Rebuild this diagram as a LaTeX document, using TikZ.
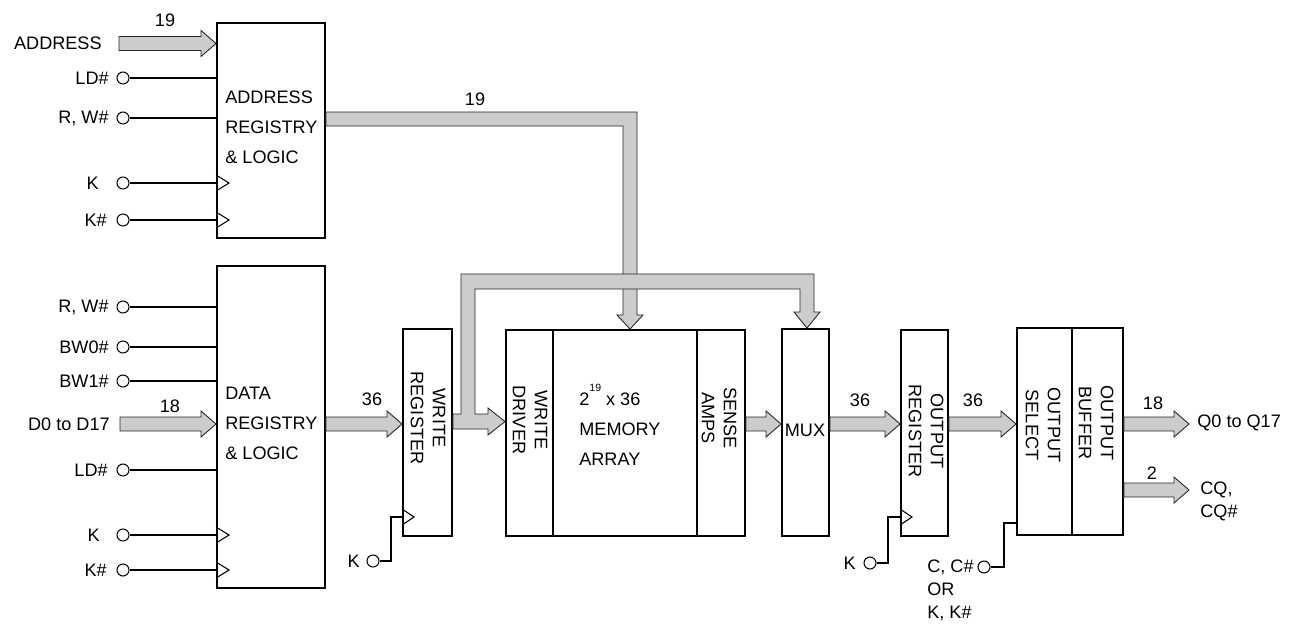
\documentclass[tikz,border=0pt]{standalone}
\usepackage{fontspec}
\setmainfont{Liberation Sans}
\usetikzlibrary{calc,fit}

\definecolor{busgray}{RGB}{204,204,204}

\tikzset{
  blk/.style={draw, line width=1.1pt, inner sep=0pt},
  pinc/.style={circle, draw, line width=0.6pt, inner sep=0pt, minimum size=0.24cm},
  wire/.style={line width=0.6pt},
  bus/.style={fill=busgray, draw=black!85, line width=0.5pt},
  txt/.style={font=\fontsize{10.3}{17}\selectfont, inner sep=0pt},
  vtxt/.style={txt, font=\fontsize{10.3}{12.5}\selectfont, rotate=-90, align=center},
  stxt/.style={txt, font=\fontsize{10.3}{13}\selectfont, align=left, anchor=west}
}

% fat bus arrow, tip on the x of the second point
\newcommand\hbus[2]{%
  \path (#1) coordinate (bS) (#2) coordinate (bT);
  \filldraw[bus] ($(bS)+(0,-7)$) -- ($(bS -| bT)+(-15,-7)$)
    -- ($(bS -| bT)+(-15,-13)$) -- (bS -| bT) -- ($(bS -| bT)+(-15,13)$)
    -- ($(bS -| bT)+(-15,7)$) -- ($(bS)+(0,7)$) -- cycle;}

\begin{document}
\begin{tikzpicture}[x=0.02cm, y=-0.02cm]

\useasboundingbox (0,0) rectangle (1293,626);
\coordinate (row) at (0,424);
\coordinate (qout) at (1189,424);
\coordinate (cqout) at (1189,490);

% blocks
\node[blk, fit={(217,23) (325,238)}] (addr) {};
\node[blk, fit={(217,266) (325,588)}] (datareg) {};
\node[blk, fit={(403,329) (452,536)}] (wreg) {};
\node[blk, fit={(506,330) (553,536)}] (wdrv) {};
\node[blk, fit={(553,330) (697,536)}] (marr) {};
\node[blk, fit={(697,330) (745,536)}] (samp) {};
\node[blk, fit={(782,329) (829,536)}] (mux) {};
\node[blk, fit={(901,330) (948,536)}] (oreg) {};
\node[blk, fit={(1017,328) (1072,535)}] (osel) {};
\node[blk, fit={(1072,328) (1123,535)}] (obuf) {};

\node[txt, anchor=west, align=left] (addrt) at (225,127) {ADDRESS\\REGISTRY\\\& LOGIC};
\node[txt, anchor=west, align=left] (datat) at (225,423) {DATA\\REGISTRY\\\& LOGIC};
\node[vtxt] (wregt) at (428,418) {WRITE\\REGISTER};
\node[vtxt] (wdrvt) at (530,420) {WRITE\\DRIVER};
\node[txt, anchor=west, align=left] (marrt) at (579,425)
  {2\raisebox{8pt}{\fontsize{6}{6}\selectfont 19} x 36\\MEMORY\\ARRAY};
\node[vtxt] (sampt) at (719,418) {SENSE\\AMPS};
\node[txt] (muxt) at (805,430) {MUX};
\node[vtxt] (oregt) at (926,431) {OUTPUT\\REGISTER};
\node[vtxt] (oselt) at (1043,425) {OUTPUT\\SELECT};
\node[vtxt] (obuft) at (1096,423) {OUTPUT\\BUFFER};

% address inputs
\node[txt, anchor=east] (addrin) at (102,43.5) {ADDRESS};
\hbus{119,43.5}{addr.west}
\node[txt] (n19a) at (165,20) {19};

\node[pinc] (aLD) at (123,78) {};
\node[txt, anchor=east] (aLDt) at (109,78) {LD\#};
\draw[wire] (aLD) -- (aLD -| addr.west);

\node[pinc] (aRW) at (123,118) {};
\node[txt, anchor=east] (aRWt) at (109,118) {R, W\#};
\draw[wire] (aRW) -- (aRW -| addr.west);

\node[pinc] (aK) at (123,183) {};
\node[txt, anchor=east] (aKt) at (99,183) {K};
\draw[wire] (aK) -- (aK -| addr.west);
\draw[wire] (aK -| addr.west) ++(0,-8) -- ++(13,8) -- ++(-13,8);

\node[pinc] (aKn) at (123,220) {};
\node[txt, anchor=east] (aKnt) at (107,220) {K\#};
\draw[wire] (aKn) -- (aKn -| addr.west);
\draw[wire] (aKn -| addr.west) ++(0,-8) -- ++(13,8) -- ++(-13,8);

% data inputs
\node[pinc] (dRW) at (123,307) {};
\node[txt, anchor=east] (dRWt) at (109,307) {R, W\#};
\draw[wire] (dRW) -- (dRW -| datareg.west);

\node[pinc] (dBW0) at (123,347) {};
\node[txt, anchor=east] (dBW0t) at (109,347) {BW0\#};
\draw[wire] (dBW0) -- (dBW0 -| datareg.west);

\node[pinc] (dBW1) at (123,381) {};
\node[txt, anchor=east] (dBW1t) at (109,381) {BW1\#};
\draw[wire] (dBW1) -- (dBW1 -| datareg.west);

\node[txt, anchor=east] (dinp) at (110,424) {D0 to D17};
\hbus{120,424}{datareg.west}
\node[txt] (n18a) at (170,406) {18};

\node[pinc] (dLD) at (123,470) {};
\node[txt, anchor=east] (dLDt) at (108,470) {LD\#};
\draw[wire] (dLD) -- (dLD -| datareg.west);

\node[pinc] (dK) at (123,535) {};
\node[txt, anchor=east] (dKt) at (100,535) {K};
\draw[wire] (dK) -- (dK -| datareg.west);
\draw[wire] (dK -| datareg.west) ++(0,-8) -- ++(13,8) -- ++(-13,8);

\node[pinc] (dKn) at (123,570) {};
\node[txt, anchor=east] (dKnt) at (107,570) {K\#};
\draw[wire] (dKn) -- (dKn -| datareg.west);
\draw[wire] (dKn -| datareg.west) ++(0,-8) -- ++(13,8) -- ++(-13,8);

% address bus to the array
\filldraw[bus] (addr.east |- 0,112) -- (637,112) -- (637,315) -- (643,315)
  -- (marr.north -| 630,0) -- (617,315) -- (623,315) -- (623,126)
  -- (addr.east |- 0,126) -- cycle;
\node[txt] (n19b) at (475,99) {19};

% data path
\hbus{datareg.east |- row}{wreg.west}
\node[txt] (n36a) at (372,399) {36};

\filldraw[bus] (wreg.east |- 0,414) -- (461,414) -- (461,274) -- (814,274) -- (814,312)
  -- (820,312) -- (mux.north -| 807,0) -- (794,312) -- (800,312) -- (800,289)
  -- (475,289) -- (475,414) -- (488,414) -- (488,408) -- (wdrv.west |- 0,421.5)
  -- (488,435) -- (488,429) -- (wreg.east |- 0,429) -- cycle;

\hbus{samp.east |- row}{mux.west}
\hbus{mux.east |- row}{oreg.west}
\node[txt] (n36b) at (860,400) {36};
\hbus{oreg.east |- row}{osel.west}
\node[txt] (n36c) at (973,400) {36};

% outputs
\hbus{obuf.east |- row}{qout}
\node[txt] (n18b) at (1153,403) {18};
\node[txt, anchor=west] (qt) at (1197,423) {Q0 to Q17};
\hbus{obuf.east |- cqout}{cqout}
\node[txt] (n2) at (1152,473) {2};
\node[stxt] (cqt) at (1200,501) {CQ,\\CQ\#};

% clocks below
\node[pinc] (wK) at (373,561) {};
\node[txt, anchor=east] (wKt) at (360,561) {K};
\draw[wire] (wK) -| (391,517) -- (wreg.west |- 0,517);
\draw[wire] (wreg.west |- 0,517) ++(0,-8) -- ++(12,8) -- ++(-12,8);

\node[pinc] (oK) at (870,563) {};
\node[txt, anchor=east] (oKt) at (856,563) {K};
\draw[wire] (oK) -| (888,517) -- (oreg.west |- 0,517);
\draw[wire] (oreg.west |- 0,517) ++(0,-8) -- ++(12,8) -- ++(-12,8);

\node[pinc] (cK) at (984,567) {};
\node[stxt] (cKt) at (927,590) {C, C\#\\OR\\K, K\#};
\draw[wire] (cK) -| (1004,523) -- (osel.west |- 0,523);

\end{tikzpicture}
\end{document}
